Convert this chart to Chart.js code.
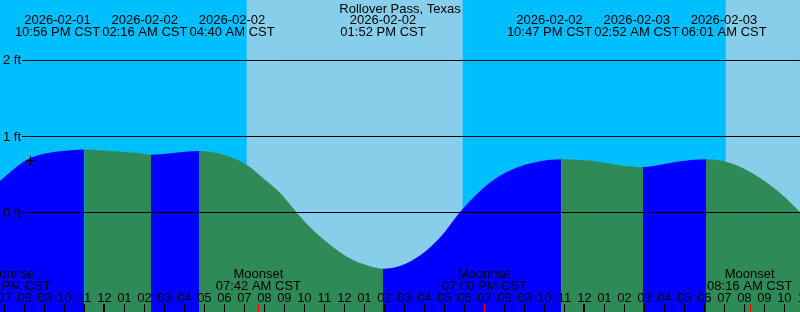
<!DOCTYPE html>
<html>
<head>
<meta charset="utf-8">
<script src="https://cdn.jsdelivr.net/npm/chart.js@4/dist/chart.umd.min.js"></script>
<style>
html,body{margin:0;padding:0;background:#00BFFF;overflow:hidden}
#wrap{width:800px;height:312px;position:relative}
</style>
</head>
<body>
<div id="wrap"><canvas id="c"></canvas></div>
<script>
// ---- data (hours relative to 2026-02-02 00:00 CST, levels in feet) ----
const stationName = "Rollover Pass, Texas";
const viewStart = -5.283, viewEnd = 34.717;
const levelMin = -1.309, levelMax = 2.796;

const tideHours = [-6, -5.25, -4.25, -3.75, -2.75, -1.75, -1.067, -0.25, 0.75, 1.75, 2.267, 3.25, 4.667, 5.75, 7.1, 7.75, 8.75, 9.55, 10.25, 11.25, 12.25, 13.25, 13.867, 14.75, 15.75, 16.75, 17.7, 18.75, 19.75, 20.75, 21.75, 22.783, 23.75, 24.75, 25.75, 26.867, 27.75, 28.75, 30.017, 31.05, 31.75, 32.75, 33.75, 34.75, 35.5];
const tideFeet  = [0.26, 0.425, 0.64, 0.72, 0.79, 0.82, 0.83, 0.82, 0.80, 0.78, 0.76, 0.78, 0.81, 0.77, 0.62, 0.48, 0.25, 0.0, -0.20, -0.43, -0.61, -0.71, -0.74, -0.70, -0.56, -0.32, 0.0, 0.29, 0.49, 0.61, 0.675, 0.70, 0.69, 0.665, 0.62, 0.60, 0.63, 0.675, 0.70, 0.665, 0.60, 0.45, 0.25, 0.0, -0.19];

const extremeHours = [-1.067, 2.267, 4.667, 13.867, 22.783, 26.867, 30.017];
const extremeTypes = ['H', 'L', 'H', 'L', 'H', 'L', 'H'];
const extremeDates = ['2026-02-01', '2026-02-02', '2026-02-02', '2026-02-02', '2026-02-02', '2026-02-03', '2026-02-03'];
const extremeTimes = ['10:56 PM CST', '02:16 AM CST', '04:40 AM CST', '01:52 PM CST', '10:47 PM CST', '02:52 AM CST', '06:01 AM CST'];

const sunriseHours = [7.05, 31.0];
const sunsetHours  = [17.85, 41.9];

const moonHours = [-6.3, 7.7, 19.0, 32.267];
const moonNames = ['Moonrise', 'Moonset', 'Moonrise', 'Moonset'];
const moonTimes = ['05:42 PM CST', '07:42 AM CST', '07:00 PM CST', '08:16 AM CST'];

const levelTicks = [0, 1, 2];
const levelTickLabels = ['0 ft', '1 ft', '2 ft'];

const nowHour = -3.758, nowFeet = 0.684;

// ---- styles ----
const FLOOD = '#0000FF', EBB = '#2E8B57', DAY = '#87CEEB', NIGHT = '#00BFFF';
const FONT = '13px "Liberation Sans", Arial, sans-serif';

function risingAt(h) {
  for (let i = 0; i < extremeHours.length; i++) if (extremeHours[i] > h) return extremeTypes[i] === 'H';
  return extremeTypes[extremeTypes.length - 1] === 'L';
}

const skyPlugin = {
  id: 'sky',
  beforeDraw(chart) {
    const {ctx, chartArea: a, scales: {x}} = chart;
    ctx.save();
    ctx.fillStyle = NIGHT;
    ctx.fillRect(0, 0, chart.width, chart.height);
    ctx.fillStyle = DAY;
    for (let i = 0; i < sunriseHours.length; i++) {
      const x0 = Math.max(a.left, x.getPixelForValue(sunriseHours[i]));
      const x1 = Math.min(a.right, x.getPixelForValue(sunsetHours[i]));
      if (x1 > x0) ctx.fillRect(x0, 0, x1 - x0, chart.height);
    }
    ctx.restore();
  }
};

const overlayPlugin = {
  id: 'overlay',
  afterDraw(chart) {
    const {ctx, chartArea: a, scales: {x, y}} = chart;
    ctx.save();
    ctx.font = FONT;
    ctx.fillStyle = '#000';
    ctx.strokeStyle = '#000';
    ctx.lineWidth = 1;

    // level grid lines + labels
    levelTicks.forEach((v, i) => {
      const py = y.getPixelForValue(v);
      ctx.beginPath(); ctx.moveTo(22, py); ctx.lineTo(a.right, py); ctx.stroke();
      ctx.textAlign = 'left'; ctx.textBaseline = 'alphabetic';
      ctx.fillText(levelTickLabels[i], 3, py + 4);
    });

    // hour ticks + labels
    ctx.textAlign = 'center'; ctx.textBaseline = 'alphabetic';
    for (let h = Math.ceil(viewStart) - 1; h <= Math.floor(viewEnd) + 1; h++) {
      const px = x.getPixelForValue(h);
      const hod = ((h % 24) + 24) % 24;
      const lbl = String(hod % 12 === 0 ? 12 : hod % 12).padStart(2, '0');
      ctx.fillText(lbl, px - 1.3, 302);
      if (hod === 0) ctx.fillRect(Math.floor(px) - 2, 304, 2, 8);
      else ctx.fillRect(Math.floor(px) - 1, 304, 1, 8);
    }
    // moon ticks
    ctx.fillStyle = '#FF0000';
    moonHours.forEach(h => {
      const px = x.getPixelForValue(h);
      ctx.fillRect(Math.floor(px) - 1, 304, 1, 8);
    });
    ctx.fillStyle = '#000';

    // moon labels
    moonHours.forEach((h, i) => {
      const px = Math.max(x.getPixelForValue(h) - 1.3, a.left + 8);
      ctx.fillText(moonNames[i], px, 278);
      ctx.fillText(moonTimes[i], px, 290);
    });

    // title
    ctx.fillText(stationName, (a.left + a.right) / 2, 13);

    // tide event labels with overlap spreading
    let spacing = 0;
    extremeHours.forEach((h, i) => {
      spacing = Math.max(spacing, ctx.measureText(extremeDates[i]).width, ctx.measureText(extremeTimes[i]).width);
    });
    spacing += 2;
    let groups = extremeHours.map((h, i) => ({idx: [i], xs: [x.getPixelForValue(h)]}));
    const place = g => {
      const c = g.xs.reduce((s, v) => s + v, 0) / g.xs.length;
      return g.xs.map((_, k) => c + (k - (g.xs.length - 1) / 2) * spacing);
    };
    let changed = true;
    while (changed) {
      changed = false;
      for (let i = 0; i < groups.length - 1; i++) {
        const p = place(groups[i]), q = place(groups[i + 1]);
        if (q[0] - p[p.length - 1] < spacing) {
          groups[i] = {idx: groups[i].idx.concat(groups[i + 1].idx), xs: groups[i].xs.concat(groups[i + 1].xs)};
          groups.splice(i + 1, 1);
          changed = true;
          break;
        }
      }
    }
    groups.forEach(g => {
      const pos = place(g);
      g.idx.forEach((ei, k) => {
        ctx.fillText(extremeDates[ei], pos[k], 24);
        ctx.fillText(extremeTimes[ei], pos[k], 36);
      });
    });
    ctx.restore();
  }
};

new Chart(document.getElementById('c'), {
  type: 'line',
  data: {
    datasets: [
      {
        data: [{x: nowHour, y: nowFeet}],
        order: -1,
        showLine: false,
        fill: false,
        pointStyle: 'cross',
        pointRadius: 4.5,
        pointBorderColor: '#000',
        pointBorderWidth: 1,
        borderColor: '#000',
        backgroundColor: '#000'
      },
      {
        data: tideHours.map((h, i) => ({x: h, y: tideFeet[i]})),
        order: 1,
        fill: 'start',
        backgroundColor: EBB,
        borderColor: 'rgba(0,0,0,0)',
        borderWidth: 1,
        pointRadius: 0,
        cubicInterpolationMode: 'monotone',
        segment: {
          backgroundColor: c => risingAt((c.p0.parsed.x + c.p1.parsed.x) / 2) ? FLOOD : EBB
        }
      }
    ]
  },
  options: {
    responsive: true,
    maintainAspectRatio: false,
    animation: false,
    events: [],
    layout: {padding: 0, autoPadding: false},
    plugins: {legend: {display: false}, tooltip: {enabled: false}},
    scales: {
      x: {type: 'linear', min: viewStart, max: viewEnd, display: false},
      y: {type: 'linear', min: levelMin, max: levelMax, display: false}
    }
  },
  plugins: [skyPlugin, overlayPlugin]
});
</script>
</body>
</html>
